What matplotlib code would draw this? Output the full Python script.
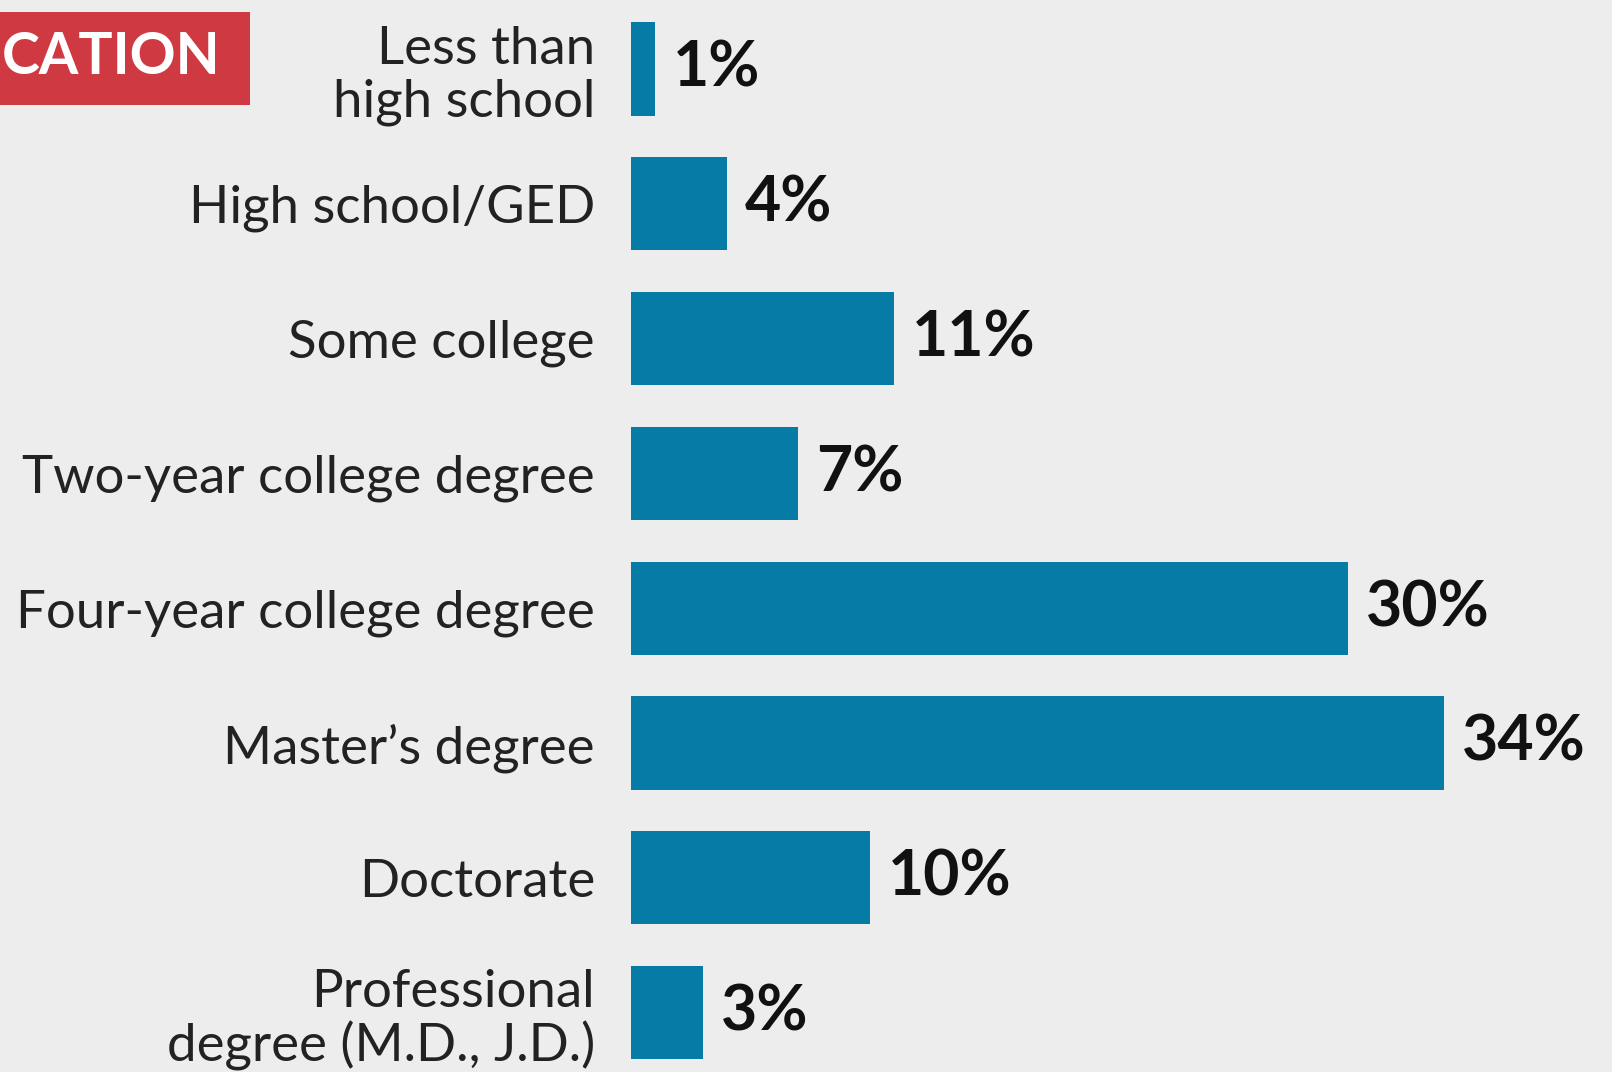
import matplotlib.pyplot as plt
from matplotlib import font_manager
from matplotlib.patches import Rectangle

# Share of respondents by highest level of education
categories = ['Less than\nhigh school', 'High school/GED', 'Some college',
              'Two-year college degree', 'Four-year college degree',
              "Master\u2019s degree", 'Doctorate',
              'Professional\ndegree (M.D., J.D.)']
shares = [1, 4, 11, 7, 30, 34, 10, 3]
header = 'CATION'

bg = '#ededed'
bar_color = '#067ba6'
red = '#cf3a42'

installed = {f.name for f in font_manager.fontManager.ttflist}
label_font = [f for f in ['Liberation Sans Narrow', 'Lato'] if f in installed] + ['DejaVu Sans']
value_font = [f for f in ['Lato', 'Open Sans'] if f in installed] + ['DejaVu Sans']

fig = plt.figure(figsize=(16.12, 10.72), dpi=100, facecolor=bg)
# axes run from the bar baseline to the right edge, full height
ax = fig.add_axes([631 / 1612, 0, 1 - 631 / 1612, 1])
ax.set_facecolor(bg)

y = list(range(len(categories)))
ax.barh(y, shares, height=0.69, color=bar_color)
ax.set_xlim(0, (1612 - 631) / 23.9)
ax.set_ylim(7 + (1072 - 1012.6) / 134.8, -69 / 134.8)

ax.set_yticks(y)
ax.set_yticklabels(categories, fontsize=38, color='#222222',
                   family=label_font, linespacing=1.12)
ax.tick_params(axis='y', length=0, pad=26)
ax.set_xticks([])
for s in ax.spines.values():
    s.set_visible(False)

for yi, v in zip(y, shares):
    ax.text(v + 0.75, yi, f'{v}%', va='center', ha='left', fontsize=45,
            fontweight='bold', color='#111111', family=value_font)

# red section header, cut off at the left edge
fig.patches.append(Rectangle((0, 1 - 105 / 1072), 250 / 1612, 93 / 1072,
                             transform=fig.transFigure, facecolor=red,
                             edgecolor='none'))
fig.text(2 / 1612, 1 - 57 / 1072, header, ha='left', va='center',
         fontsize=41, fontweight='bold', color='white', family=value_font)

fig.savefig('out.png', dpi=100, facecolor=bg)
